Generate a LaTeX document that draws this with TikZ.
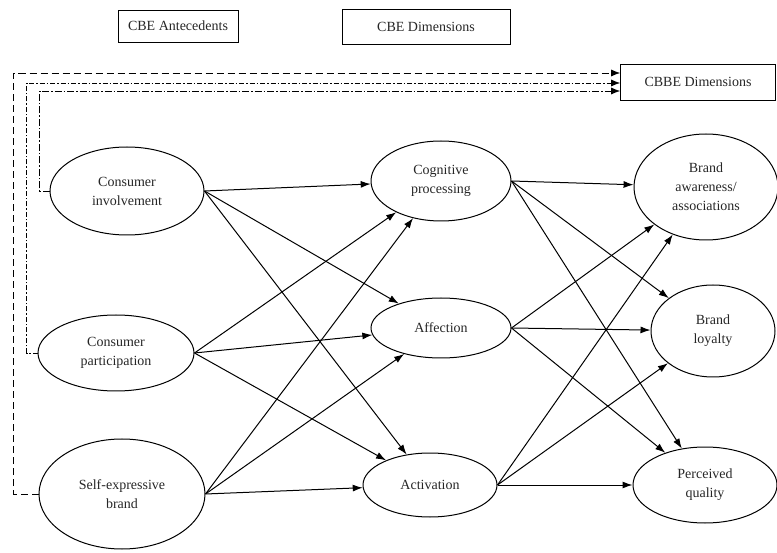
\documentclass[tikz,border=0pt]{standalone}
\usepackage{fontspec}
\setmainfont{Liberation Serif}
\usetikzlibrary{shapes.geometric,arrows.meta}

\begin{document}
\begin{tikzpicture}[x=1pt,y=-1pt,font=\fontsize{14}{19}\selectfont,
  oval/.style={draw,ellipse,line width=1pt,inner sep=0pt,align=center,text=black!85},
  hdbox/.style={draw,line width=0.7pt,inner sep=0pt,text=black!85},
  arr/.style={line width=1pt,-{Latex[length=10pt,width=7pt]}},
  lnkA/.style={line width=0.8pt,dash pattern=on 7pt off 4pt,-{Latex[length=9pt,width=7pt]}},
  lnkB/.style={line width=0.8pt,dash pattern=on 5pt off 2pt on 1.5pt off 2pt,-{Latex[length=9pt,width=7pt]}},
  lnkC/.style={line width=0.8pt,dash pattern=on 7pt off 2pt on 1.5pt off 2pt,-{Latex[length=9pt,width=7pt]}}]

\useasboundingbox (0,0) rectangle (777,553);

% 見出し
\node[hdbox,minimum width=120,minimum height=32] (ant) at (178,26) {CBE Antecedents};
\node[hdbox,minimum width=168,minimum height=35] (dim) at (426,27) {CBE Dimensions};
\node[hdbox,minimum width=155,minimum height=36] (cbbe) at (698,82) {CBBE Dimensions};

% 左列 antecedents
\node[oval,minimum width=154,minimum height=88] (inv) at (127,191) {Consumer\\involvement};
\node[oval,minimum width=156,minimum height=76] (par) at (116,353) {Consumer\\participation};
\node[oval,minimum width=166,minimum height=110] (seb) at (122,494) {Self-expressive\\brand};

% 中列 CBE
\node[oval,minimum width=140,minimum height=80] (cog) at (441,181) {Cognitive\\processing};
\node[oval,minimum width=140,minimum height=60] (aff) at (441,328) {Affection};
\node[oval,minimum width=134,minimum height=64] (act) at (430,485) {Activation};

% 右列 CBBE
\node[oval,minimum width=144,minimum height=106] (baa) at (706,187) {Brand\\awareness/\\associations};
\node[oval,minimum width=124,minimum height=92] (bl) at (713,331) {Brand\\loyalty};
\node[oval,minimum width=144,minimum height=76] (pq) at (705,485) {Perceived\\quality};

% 矢印
\foreach \s in {inv,par,seb}
  \foreach \t in {cog,aff,act}
    \draw[arr] (\s.east) -- (\t);
\foreach \s in {cog,aff,act}
  \foreach \t in {baa,bl,pq}
    \draw[arr] (\s.east) -- (\t);

% 破線 links
\draw[lnkA] (seb.west) -- ++(-25,0) |- ([yshift=9pt]cbbe.west);
\draw[lnkB] (par.west) -- ++(-11,0) |- ([yshift=-1pt]cbbe.west);
\draw[lnkC] (inv.west) -- ++(-10,0) |- ([yshift=-9pt]cbbe.west);

\end{tikzpicture}
\end{document}
